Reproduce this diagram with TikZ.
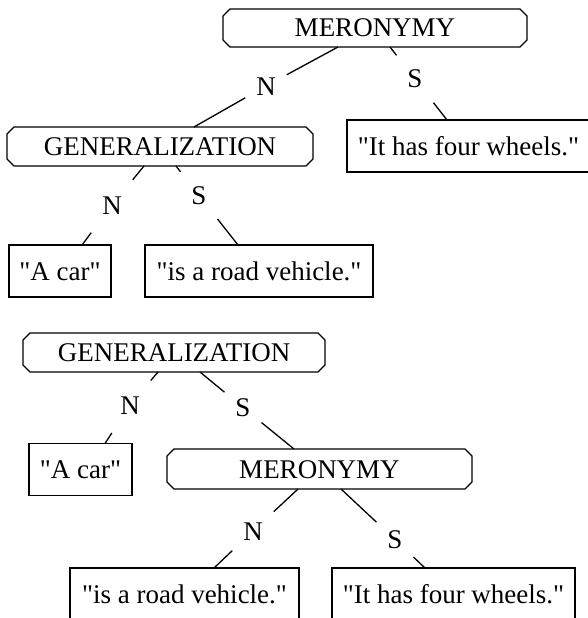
\documentclass[tikz,border=0pt]{standalone}
\usepackage{fontspec}
\setmainfont{Liberation Serif}[Ligatures=TeXOff]
\begin{document}
\begin{tikzpicture}[x=1pt,y=-1pt,
  every node/.style={font=\fontsize{27}{32}\selectfont, inner sep=0pt, outer sep=0pt},
  txtbox/.style={draw, line width=1.3pt, text height=18pt, text depth=0pt, align=center},
  relbox/.style={text height=18pt, text depth=0pt, align=center},
  lbl/.style={inner xsep=11pt, minimum height=56pt, text height=18pt, text depth=0pt},
  conn/.style={line width=1.3pt}]
\useasboundingbox (0,0) rectangle (588,618);
\newcommand\chamfbox[1]{%
  \draw[line width=1.3pt] ([xshift=7pt]#1.north west) -- ([xshift=-7pt]#1.north east)
    -- ([yshift=-7pt]#1.north east) -- ([yshift=7pt]#1.south east)
    -- ([xshift=-7pt]#1.south east) -- ([xshift=7pt]#1.south west)
    -- ([yshift=7pt]#1.south west) -- ([yshift=-7pt]#1.north west) -- cycle;}
% top tree
\node[relbox, minimum width=304pt, minimum height=38pt] (m1) at (375,28) {MERONYMY};
\node[relbox, minimum width=306pt, minimum height=39pt] (g1) at (160,146.5) {GENERALIZATION};
\node[txtbox, minimum width=243pt, minimum height=52pt] (w1) at (468.5,146) {"It has four wheels."};
\node[txtbox, minimum width=102pt, minimum height=52pt] (a1) at (60,271) {"A car"};
\node[txtbox, minimum width=228pt, minimum height=52pt] (r1) at (259,271) {"is a road vehicle."};
\chamfbox{m1}
\chamfbox{g1}
\node[lbl] (n1) at (266,86) {N};
\node[lbl] (s1) at (415,79) {S};
\node[lbl] (n2) at (112,205) {N};
\node[lbl] (s2) at (199,195.5) {S};
\draw[conn] ([xshift=-37pt]m1.south) -- (n1);
\draw[conn] (n1) -- ([xshift=34pt]g1.north);
\draw[conn] ([xshift=15pt]m1.south) -- (s1);
\draw[conn] (s1) -- ([xshift=-21.5pt]w1.north);
\draw[conn] ([xshift=-16pt]g1.south) -- (n2);
\draw[conn] (n2) -- ([xshift=22pt]a1.north);
\draw[conn] ([xshift=16pt]g1.south) -- (s2);
\draw[conn] (s2) -- ([xshift=-21pt]r1.north);
% bottom tree
\node[relbox, minimum width=302pt, minimum height=39pt] (g2) at (174,352.5) {GENERALIZATION};
\node[txtbox, minimum width=103pt, minimum height=52pt] (a2) at (80.5,469.5) {"A car"};
\node[relbox, minimum width=305pt, minimum height=40pt] (m2) at (319.5,469) {MERONYMY};
\node[txtbox, minimum width=229pt, minimum height=52pt] (r2) at (184.5,594) {"is a road vehicle."};
\node[txtbox, minimum width=243pt, minimum height=52pt] (w2) at (453.5,594) {"It has four wheels."};
\chamfbox{g2}
\chamfbox{m2}
\node[lbl] (n3) at (130,405) {N};
\node[lbl] (s3) at (243,407.5) {S};
\node[lbl] (n4) at (253,531) {N};
\node[lbl] (s4) at (395,539.5) {S};
\draw[conn] ([xshift=-16pt]g2.south) -- (n3);
\draw[conn] (n3) -- ([xshift=24.5pt]a2.north);
\draw[conn] ([xshift=26pt]g2.south) -- (s3);
\draw[conn] (s3) -- ([xshift=-25.5pt]m2.north);
\draw[conn] ([xshift=-21.5pt]m2.south) -- (n4);
\draw[conn] (n4) -- ([xshift=29.5pt]r2.north);
\draw[conn] ([xshift=21.5pt]m2.south) -- (s4);
\draw[conn] (s4) -- ([xshift=-28.5pt]w2.north);
\end{tikzpicture}
\end{document}
